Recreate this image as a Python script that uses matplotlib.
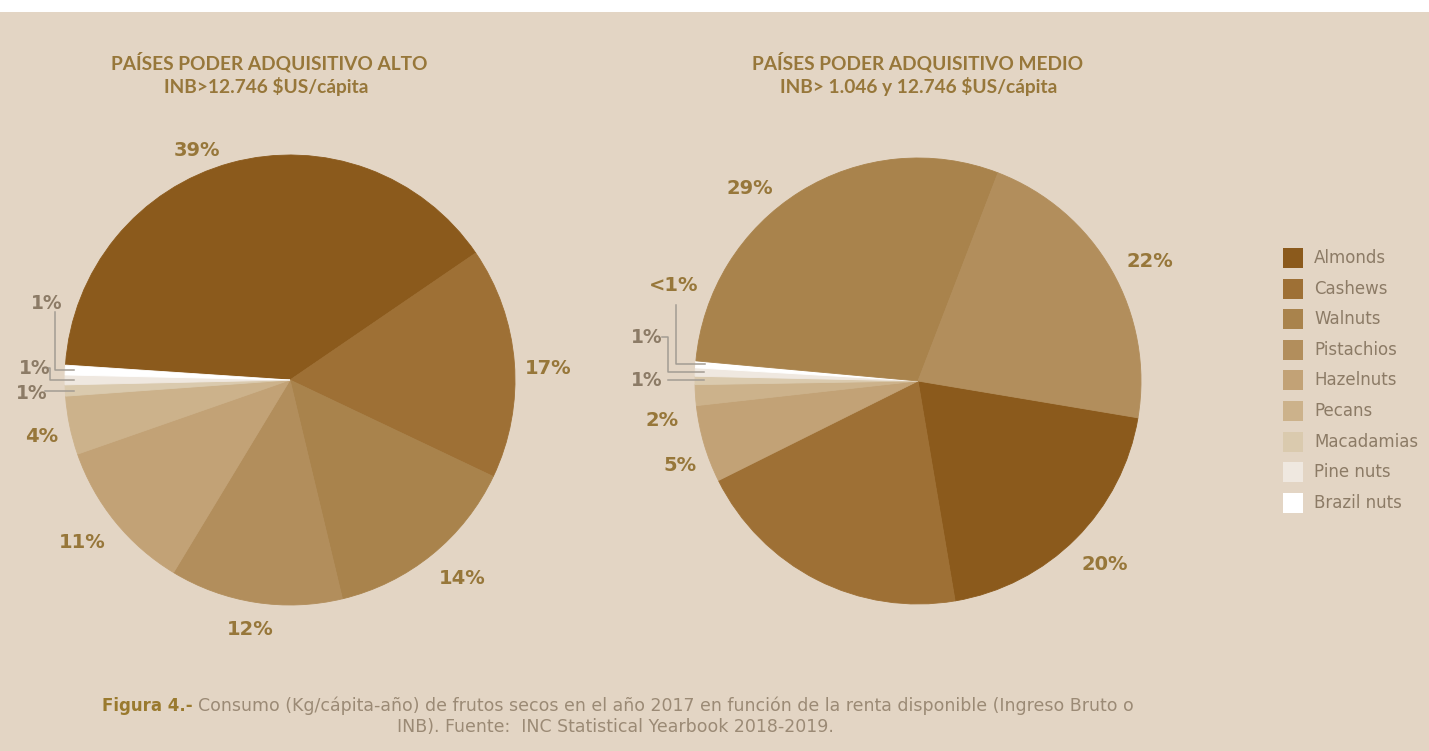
import numpy as np
import matplotlib
matplotlib.use('Agg')
import matplotlib.pyplot as plt
from matplotlib.patches import Rectangle

W, H = 1429, 751
bg = '#e3d5c4'
gold = '#97773a'
grey = '#8c7b66'

plt.rcParams['font.family'] = ['Lato', 'DejaVu Sans']

nuts = ['Almonds', 'Cashews', 'Walnuts', 'Pistachios', 'Hazelnuts',
        'Pecans', 'Macadamias', 'Pine nuts', 'Brazil nuts']
nut_colors = ['#8b5a1c', '#9e7035', '#a9834c', '#b28e5c', '#c2a276',
              '#ccb28b', '#dacaae', '#efe8e0', '#ffffff']
color_of = dict(zip(nuts, nut_colors))

# high income countries, slices in clockwise order
alto_nuts = ['Almonds', 'Cashews', 'Walnuts', 'Pistachios', 'Hazelnuts',
             'Pecans', 'Macadamias', 'Pine nuts', 'Brazil nuts']
alto_vals = [39.4, 16.6, 14.2, 12.4, 11.0, 4.2, 0.8, 0.7, 0.7]
alto_labels = ['39%', '17%', '14%', '12%', '11%', '4%', '1%', '1%', '1%']

# middle income countries, slices in clockwise order
medio_nuts = ['Almonds', 'Cashews', 'Hazelnuts', 'Pecans', 'Macadamias',
              'Pine nuts', 'Brazil nuts', 'Walnuts', 'Pistachios']
medio_vals = [19.7, 20.3, 5.6, 1.5, 0.6, 0.6, 0.5, 29.4, 21.8]
medio_labels = ['20%', '', '5%', '2%', '1%', '1%', '<1%', '29%', '22%']

# label layout (pie radius units)
alto_pos = [(-0.413, 1.022), (1.147, 0.053), (0.764, -0.88), (-0.178, -1.111),
            (-0.924, -0.72), (-1.102, -0.253), (-1.147, -0.058),
            (-1.133, 0.053), (-1.08, 0.342)]
medio_pos = [(0.839, -0.825), (0, 0), (-1.067, -0.381), (-1.148, -0.175),
             (-1.215, 0.004), (-1.215, 0.197), (-1.094, 0.43),
             (-0.753, 0.865), (1.04, 0.534)]
# leader line elbows for the thin slices: (nut, points before reaching the slice)
alto_leaders = [('Brazil nuts', [(-1.044, 0.302), (-1.044, None)]),
                ('Pine nuts', [(-1.098, 0.053), (-1.067, 0.053), (-1.067, None)]),
                ('Macadamias', [(-1.089, None)])]
medio_leaders = [('Brazil nuts', [(-1.085, 0.341), (-1.085, None)]),
                 ('Pine nuts', [(-1.148, 0.197), (-1.121, 0.197), (-1.121, None)]),
                 ('Macadamias', [(-1.121, None)])]


def px_axes(cx, cy, r):
    return fig.add_axes([(cx - r) / W, (H - cy - r) / H, 2 * r / W, 2 * r / H])


def draw_pie(ax, names, vals, labels, pos, leaders, start):
    wedges, _ = ax.pie(vals, colors=[color_of[n] for n in names], startangle=start,
                       counterclock=False, radius=1)
    for w in wedges:
        w.set_edgecolor(w.get_facecolor())
        w.set_linewidth(0.6)
    ax.set_xlim(-1, 1)
    ax.set_ylim(-1, 1)
    ax.set_aspect('equal')
    ax.axis('off')
    for n, lab, (x, y) in zip(names, labels, pos):
        if not lab:
            continue
        small = lab == '1%' and n in ('Macadamias', 'Pine nuts', 'Brazil nuts')
        ax.text(x, y, lab, ha='center', va='center', fontsize=13.5 if small else 14,
                fontweight='bold', family='DejaVu Sans', color=grey if small else gold)
    for n, pts in leaders:
        w = wedges[names.index(n)]
        mid = np.radians((w.theta1 + w.theta2) / 2)
        xe, ye = 0.96 * np.cos(mid), np.sin(mid)
        xs = [p[0] for p in pts] + [xe]
        ys = [ye if p[1] is None else p[1] for p in pts] + [ye]
        ax.plot(xs, ys, color='#a39c93', lw=1.1, clip_on=False)


fig = plt.figure(figsize=(W / 100, H / 100), dpi=100, facecolor=bg)
fig.add_artist(Rectangle((0, 1 - 12 / H), 1, 12 / H, transform=fig.transFigure,
                         facecolor='white', edgecolor='none'))

ax1 = px_axes(290, 380, 225)
draw_pie(ax1, alto_nuts, alto_vals, alto_labels, alto_pos, alto_leaders, 176.2)

ax2 = px_axes(918, 381, 223)
draw_pie(ax2, medio_nuts, medio_vals, medio_labels, medio_pos, medio_leaders, 350.5)

# titles
fig.text(269 / W, 1 - 62 / H, 'PAÍSES PODER ADQUISITIVO ALTO', ha='center', va='center',
         fontsize=13.8, fontweight='bold', color=gold)
fig.text(266 / W, 1 - 86 / H, r'INB>12.746 \$US/cápita', ha='center', va='center',
         fontsize=13.8, fontweight='bold', color=gold)
fig.text(918 / W, 1 - 62 / H, 'PAÍSES PODER ADQUISITIVO MEDIO', ha='center', va='center',
         fontsize=13.8, fontweight='bold', color=gold)
fig.text(919 / W, 1 - 86 / H, r'INB> 1.046 y 12.746 \$US/cápita', ha='center', va='center',
         fontsize=13.8, fontweight='bold', color=gold)

# legend
for i, (n, c) in enumerate(zip(nuts, nut_colors)):
    top = 248 + i * 30.6
    fig.add_artist(Rectangle((1283 / W, 1 - (top + 20) / H), 20 / W, 20 / H,
                             transform=fig.transFigure, facecolor=c, edgecolor='none'))
    fig.text(1314 / W, 1 - (top + 10) / H, n, ha='left', va='center', fontsize=12,
             family='DejaVu Sans', color=grey)

# caption, centred as one line
cap_y = 1 - 706 / H
t_bold = fig.text(0, cap_y, 'Figura 4.-', ha='left', va='center', fontsize=12,
                  fontweight='bold', family='DejaVu Sans', color='#9a7a2e')
t_rest = fig.text(0, cap_y,
                  'Consumo (Kg/cápita-año) de frutos secos en el año 2017 en función de la renta '
                  'disponible (Ingreso Bruto o', ha='left', va='center', fontsize=12.5,
                  family='DejaVu Sans', color='#9b8a75')
fig.text(615 / W, 1 - 727 / H, 'INB). Fuente:  INC Statistical Yearbook 2018-2019.',
         ha='center', va='center', fontsize=12.5, family='DejaVu Sans', color='#9b8a75')
rend = fig.canvas.get_renderer()
wb = t_bold.get_window_extent(rend).width
wr = t_rest.get_window_extent(rend).width
x0 = 618 - (wb + 5 + wr) / 2
t_bold.set_x(x0 / W)
t_rest.set_x((x0 + wb + 5) / W)

fig.savefig('out.png', dpi=100, facecolor=bg)
